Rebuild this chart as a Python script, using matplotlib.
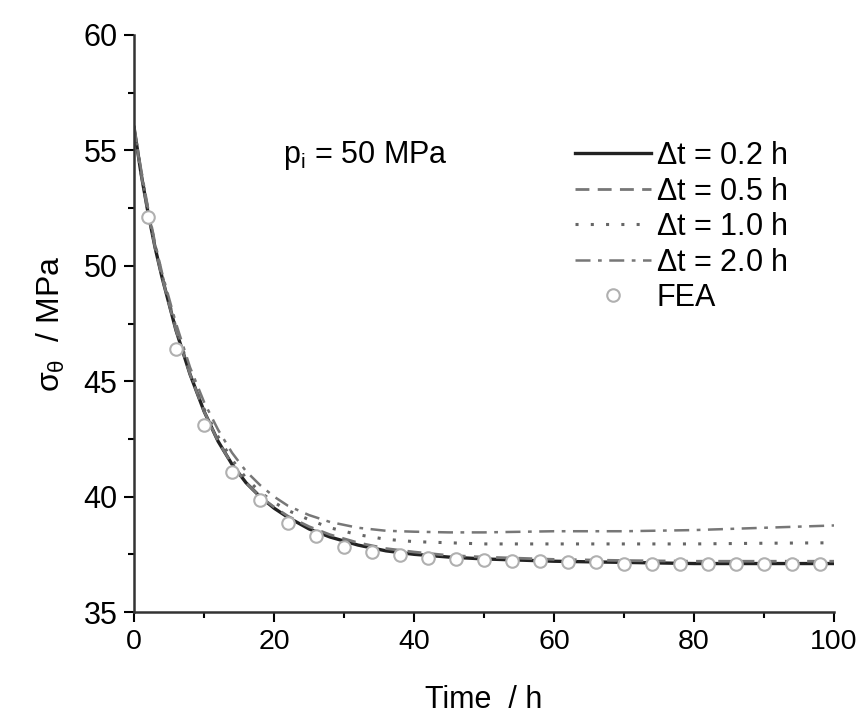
import matplotlib.pyplot as plt
from matplotlib.ticker import MultipleLocator

plt.rcParams["font.family"] = ["Liberation Sans", "DejaVu Sans"]
plt.rcParams["mathtext.fontset"] = "custom"
plt.rcParams["mathtext.rm"] = "Liberation Sans"
plt.rcParams["mathtext.it"] = "Liberation Sans"

# time grid (h) for the analytical curves
time = [0, 1, 2, 3, 4, 6, 8, 10, 12, 14, 16, 18, 20, 22, 25, 28, 32, 36, 40, 45, 50, 60, 70, 80, 90, 100]

stress_02 = [56.0, 54.0, 52.3, 50.8, 49.5, 47.2, 45.3, 43.7, 42.4, 41.4, 40.6, 40.0, 39.5,
             39.1, 38.6, 38.25, 37.9, 37.65, 37.5, 37.38, 37.3, 37.2, 37.15, 37.1, 37.1, 37.1]
stress_05 = [56.0, 54.0, 52.3, 50.8, 49.5, 47.2, 45.3, 43.7, 42.4, 41.4, 40.6, 40.0, 39.55,
             39.15, 38.7, 38.35, 38.0, 37.75, 37.6, 37.45, 37.38, 37.28, 37.23, 37.2, 37.2, 37.2]
stress_10 = [56.0, 54.1, 52.4, 50.9, 49.6, 47.3, 45.4, 43.8, 42.6, 41.6, 40.8, 40.2, 39.75,
             39.4, 39.0, 38.65, 38.35, 38.15, 38.05, 38.0, 37.95, 37.95, 37.95, 37.95, 37.98, 38.0]
stress_20 = [56.0, 54.2, 52.5, 51.0, 49.7, 47.5, 45.6, 44.1, 42.9, 41.9, 41.1, 40.5, 40.0,
             39.6, 39.2, 38.9, 38.65, 38.52, 38.48, 38.45, 38.45, 38.5, 38.5, 38.55, 38.65, 38.75]

fea_time = [2, 6, 10, 14, 18, 22, 26, 30, 34, 38, 42, 46, 50, 54, 58, 62, 66, 70, 74, 78,
            82, 86, 90, 94, 98]
fea_stress = [52.1, 46.4, 43.1, 41.05, 39.85, 38.85, 38.3, 37.8, 37.6, 37.45, 37.35, 37.3,
              37.25, 37.2, 37.2, 37.15, 37.15, 37.1, 37.1, 37.1, 37.1, 37.1, 37.1, 37.1, 37.1]

fig = plt.figure(figsize=(8.57, 7.23), dpi=100)
ax = fig.add_axes((0.1564, 0.1535, 0.8168, 0.7981))

ax.plot(time, stress_02, color="#222222", lw=2.4, ls="-", label=r"$\Delta$t = 0.2 h")
ax.plot(time, stress_05, color="#777777", lw=2.0, ls=(0, (5, 3)), label=r"$\Delta$t = 0.5 h")
ax.plot(time, stress_10, color="#666666", lw=2.2, ls=(0, (1, 4)), label=r"$\Delta$t = 1.0 h")
ax.plot(time, stress_20, color="#777777", lw=1.8, ls=(0, (6, 3, 1.5, 3)), label=r"$\Delta$t = 2.0 h")
ax.plot(fea_time, fea_stress, ls="none", marker="o", ms=9, mfc="white", mec="#b0b0b0",
        mew=1.5, label="FEA", zorder=5)

ax.set_xlim(0, 100)
ax.set_ylim(35, 60)
ax.xaxis.set_major_locator(MultipleLocator(20))
ax.xaxis.set_minor_locator(MultipleLocator(10))
ax.yaxis.set_major_locator(MultipleLocator(5))
ax.yaxis.set_minor_locator(MultipleLocator(2.5))
ax.tick_params(which="major", direction="out", length=7, width=1.5, labelsize=20.5, pad=5)
ax.tick_params(axis="y", labelsize=22)
ax.tick_params(which="minor", direction="out", length=4, width=1.5)

for side in ("top", "right"):
    ax.spines[side].set_visible(False)
for side in ("left", "bottom"):
    ax.spines[side].set_linewidth(1.8)
    ax.spines[side].set_color("#333333")

ax.set_xlabel("Time  / h", fontsize=22, labelpad=22)
ax.set_ylabel(r"$\sigma_{\theta}$  / MPa", fontsize=23, labelpad=12)

ax.text(0.213, 0.792, r"p$_{\rm i}$ = 50 MPa", transform=ax.transAxes, fontsize=22,
        ha="left", va="center")

ax.legend(loc="upper left", bbox_to_anchor=(0.63, 0.816), frameon=False, fontsize=22,
          handlelength=2.5, handletextpad=0.15, labelspacing=0.18, borderaxespad=0,
          borderpad=0)

fig.savefig("out.png", dpi=100)
